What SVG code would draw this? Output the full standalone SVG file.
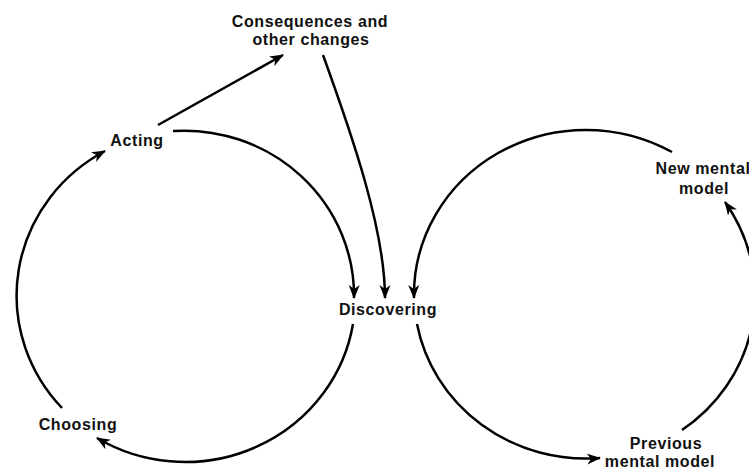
<svg xmlns="http://www.w3.org/2000/svg" width="749" height="470" viewBox="0 0 749 470">
<style>
.lbl{font-family:"Liberation Sans",Arial,Helvetica,sans-serif;font-weight:bold;font-size:16px;letter-spacing:0.6px;fill:#111;text-anchor:middle}
.con{fill:none;stroke:#000;stroke-width:2.5;marker-end:url(#ah)}
</style>
<defs>
<marker id="ah" markerUnits="userSpaceOnUse" markerWidth="15" markerHeight="12" refX="13" refY="6" orient="auto" viewBox="0 0 15 12">
<path d="M0,0.5 L14,6 L0,11.5 L4,6 z" fill="#000"/>
</marker>
</defs>
<rect width="749" height="470" fill="#fff"/>
<g id="connectors">
<path class="con" d="M173,131 A170,165 0 0 1 354,298"/>
<path class="con" d="M353,324 A170,165 0 0 1 97,438"/>
<path class="con" d="M62,408 A170,165 0 0 1 105,151"/>
<path class="con" d="M158,125 L283,55"/>
<path class="con" d="M323,55 C352,135 385,230 385,298"/>
<path class="con" d="M672,152 A172,165 0 0 0 414,298"/>
<path class="con" d="M417,324 A172,165 0 0 0 600,458"/>
<path class="con" d="M682,430 A172,165 0 0 0 725,202"/>
</g>
<g id="consequences"><text class="lbl" x="310" y="27">Consequences and</text><text class="lbl" x="311" y="45">other changes</text></g>
<g id="acting"><text class="lbl" x="137" y="146">Acting</text></g>
<g id="discovering"><text class="lbl" x="388" y="315">Discovering</text></g>
<g id="choosing"><text class="lbl" x="78" y="430">Choosing</text></g>
<g id="new-mental-model"><text class="lbl" x="703" y="174">New mental</text><text class="lbl" x="704" y="194">model</text></g>
<g id="previous-mental-model"><text class="lbl" x="666" y="449">Previous</text><text class="lbl" x="660" y="467">mental model</text></g>
</svg>
